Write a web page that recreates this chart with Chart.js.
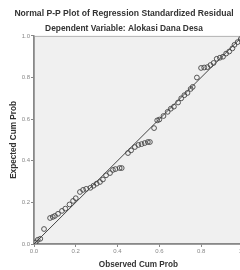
<!DOCTYPE html>
<html>
<head>
<meta charset="utf-8">
<script src="https://cdn.jsdelivr.net/npm/chart.js@4.4.1/dist/chart.umd.min.js"></script>
<style>
body { margin: 0; background: #fff; }
#wrap { width: 240px; height: 270px; overflow: hidden; }
</style>
</head>
<body>
<div id="wrap"><canvas id="ppPlot" width="248" height="270"></canvas></div>
<script>
//values
var observed = [0.008, 0.018, 0.03, 0.048, 0.077, 0.09, 0.10, 0.115, 0.134, 0.15, 0.17, 0.187, 0.20, 0.22,
    0.235, 0.25, 0.27, 0.285, 0.30, 0.316, 0.33, 0.345, 0.364, 0.378, 0.39, 0.41, 0.42, 0.45, 0.465, 0.483,
    0.50, 0.515, 0.53, 0.545, 0.555, 0.575, 0.59, 0.60, 0.62, 0.64, 0.655, 0.67, 0.69, 0.705, 0.72, 0.735,
    0.75, 0.76, 0.78, 0.80, 0.815, 0.83, 0.845, 0.86, 0.875, 0.89, 0.905, 0.92, 0.935, 0.95, 0.96, 0.975, 0.99]
var expected = [0.008, 0.02, 0.025, 0.072, 0.125, 0.13, 0.135, 0.145, 0.159, 0.17, 0.19, 0.207, 0.22, 0.25,
    0.26, 0.265, 0.27, 0.28, 0.29, 0.298, 0.31, 0.33, 0.341, 0.356, 0.36, 0.365, 0.365, 0.437, 0.45, 0.466,
    0.476, 0.48, 0.485, 0.49, 0.49, 0.557, 0.594, 0.598, 0.615, 0.635, 0.65, 0.66, 0.68, 0.70, 0.715, 0.726,
    0.745, 0.755, 0.80, 0.846, 0.848, 0.85, 0.86, 0.87, 0.89, 0.895, 0.90, 0.915, 0.925, 0.94, 0.957, 0.97, 0.985]
var diagonal = [0, 1]
var tickValues = [0, 0.2, 0.4, 0.6, 0.8, 1.0]

var points = []
for (var i = 0; i < observed.length; i++) {
    points.push({ x: observed[i], y: expected[i] })
}
var refLine = [{ x: diagonal[0], y: diagonal[0] }, { x: diagonal[1], y: diagonal[1] }]

var fontName = "'Liberation Sans', Arial, sans-serif"

//grey plot background and frame
var plotBack = {
    id: 'plotBack',
    beforeDraw: function (chart) {
        var a = chart.chartArea
        var c = chart.ctx
        c.save()
        c.fillStyle = '#f0f0f0'
        c.fillRect(a.left, a.top, a.right - a.left, a.bottom - a.top)
        c.strokeStyle = '#b4b4b4'
        c.lineWidth = 1
        c.strokeRect(a.left + 0.5, a.top + 0.5, a.right - a.left, a.bottom - a.top)
        c.restore()
    }
}

var ctx = document.getElementById('ppPlot').getContext('2d')
var myChart = new Chart(ctx, {
    type: 'scatter',
    data: {
        datasets: [{
            data: points,
            pointRadius: 2.4,
            pointBorderWidth: 0.9,
            pointBorderColor: '#444',
            pointBackgroundColor: 'rgba(0,0,0,0)',
            order: 2
        }, {
            type: 'line',
            data: refLine,
            borderColor: '#444',
            borderWidth: 1,
            pointRadius: 0,
            order: 1
        }]
    },
    options: {
        responsive: false,
        animation: false,
        layout: { padding: { left: 0, right: 0, top: 0, bottom: 0 } },
        plugins: {
            legend: { display: false },
            tooltip: { enabled: false },
            title: {
                display: true,
                text: 'Normal P-P Plot of Regression Standardized Residual',
                color: '#333',
                font: { family: fontName, size: 8.6, weight: 'bold' },
                padding: { top: 8, bottom: 2 }
            },
            subtitle: {
                display: true,
                text: 'Dependent Variable: Alokasi Dana Desa',
                color: '#333',
                font: { family: fontName, size: 8.4, weight: 'bold' },
                padding: { top: 3.5, bottom: 2 }
            }
        },
        scales: {
            x: {
                type: 'linear',
                min: 0,
                max: 1,
                afterBuildTicks: function (s) { s.ticks = tickValues.map(function (v) { return { value: v } }) },
                afterFit: function (s) { s.height = 26 },
                ticks: {
                    color: '#888',
                    font: { family: fontName, size: 6 },
                    padding: 1,
                    maxRotation: 0,
                    callback: function (v) { return v.toFixed(1) }
                },
                grid: { drawOnChartArea: false, drawTicks: true, tickLength: 3, color: '#888' },
                border: { color: '#888', width: 1.5 },
                title: {
                    display: true,
                    text: 'Observed Cum Prob',
                    color: '#333',
                    font: { family: fontName, size: 8.2, weight: 'bold' },
                    padding: { top: 2, bottom: 0 }
                }
            },
            y: {
                type: 'linear',
                min: 0,
                max: 1,
                afterBuildTicks: function (s) { s.ticks = tickValues.map(function (v) { return { value: v } }) },
                afterFit: function (s) { s.width = 34 },
                ticks: {
                    color: '#888',
                    font: { family: fontName, size: 6 },
                    padding: 1,
                    callback: function (v) { return v.toFixed(1) }
                },
                grid: { drawOnChartArea: false, drawTicks: true, tickLength: 3, color: '#888' },
                border: { color: '#888', width: 1.5 },
                title: {
                    display: true,
                    text: 'Expected Cum Prob',
                    color: '#333',
                    font: { family: fontName, size: 8.2, weight: 'bold' },
                    padding: { top: 9, bottom: 0 }
                }
            }
        }
    },
    plugins: [plotBack]
})
</script>
</body>
</html>
